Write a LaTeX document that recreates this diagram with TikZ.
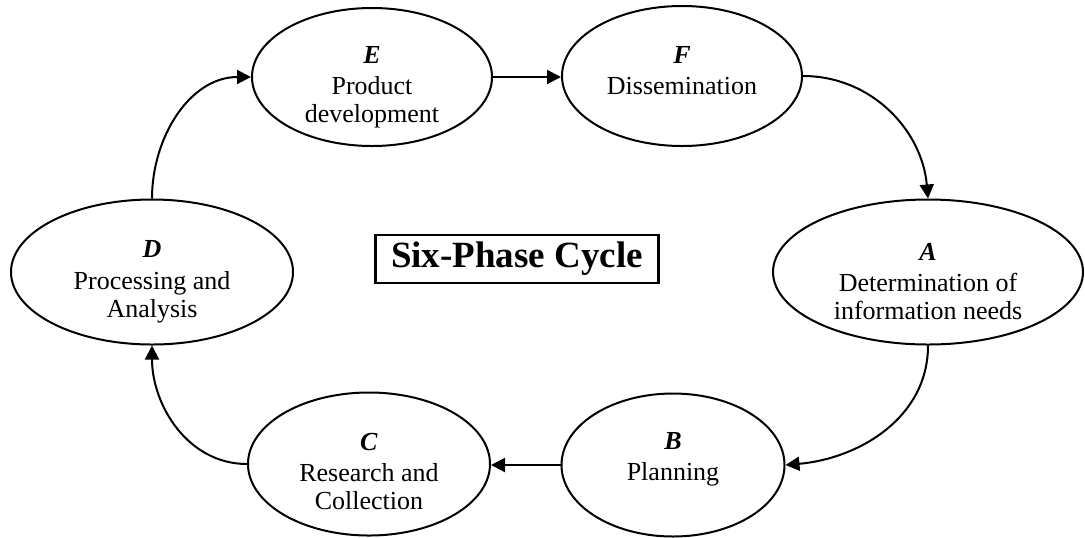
\documentclass[tikz,border=0pt]{standalone}
\usepackage{fontspec}
\setmainfont{Liberation Serif}
\usetikzlibrary{shapes,arrows.meta,positioning}
\tikzstyle{phase}=[ellipse,draw=black,line width=1pt,inner sep=0pt]
\tikzstyle{phasetext}=[align=center,inner sep=0pt,font=\fontsize{13}{14}\selectfont]
\tikzstyle{flow}=[-{Triangle[length=7pt,width=7pt]},line width=1pt]
\tikzstyle{cycletitle}=[rectangle,draw=black,line width=1.3pt,minimum width=141.5pt,minimum height=24pt,inner sep=0pt,font=\fontsize{18.5}{20}\selectfont\bfseries]

\begin{document}
\begin{tikzpicture}[x=0.5pt,y=-0.5pt]
    \useasboundingbox (0,0) rectangle (1085,537);

    % phases
    \node[phase,minimum width=120pt,minimum height=69pt] (E) at (372,77) {};
    \node[phase,minimum width=120pt,minimum height=70pt] (F) at (682,76) {};
    \node[phase,minimum width=155pt,minimum height=72.5pt] (A) at (928,272) {};
    \node[phase,minimum width=111.5pt,minimum height=71.5pt] (B) at (673,465) {};
    \node[phase,minimum width=121pt,minimum height=71.5pt] (C) at (369,464) {};
    \node[phase,minimum width=141pt,minimum height=72.5pt] (D) at (152,272) {};

    % phase texts
    \node[phasetext,below=19.5pt of E.north] (Etext) {\textbf{\textit{E}}\\[1.5pt]Product\\development};
    \node[phasetext,below=20.5pt of F.north] (Ftext) {\textbf{\textit{F}}\\[1.5pt]Dissemination};
    \node[phasetext,below=22pt of A.north] (Atext) {\textbf{\textit{A}}\\[1.5pt]Determination of\\information needs};
    \node[phasetext,below=20pt of B.north] (Btext) {\textbf{\textit{B}}\\[1.5pt]Planning};
    \node[phasetext,below=20.5pt of C.north] (Ctext) {\textbf{\textit{C}}\\[1.5pt]Research and\\Collection};
    \node[phasetext,below=21pt of D.north] (Dtext) {\textbf{\textit{D}}\\[2pt]Processing and\\Analysis};

    \node[cycletitle] (cycle) at (517,259) {Six-Phase Cycle};

    % arrows
    \draw [flow] (E.east) -- (E.east -| F.west);
    \draw [flow] (F.east) to[out=0,in=95] (A.north);
    \draw [flow] (A.south) to[out=-90,in=5] (B.east);
    \draw [flow] (B.west) -- (B.west -| C.east);
    \draw [flow] (C.west) to[out=180,in=-90] (D.south);
    \draw [flow] (D.north) to[out=90,in=180] (E.west);

\end{tikzpicture}
\end{document}
